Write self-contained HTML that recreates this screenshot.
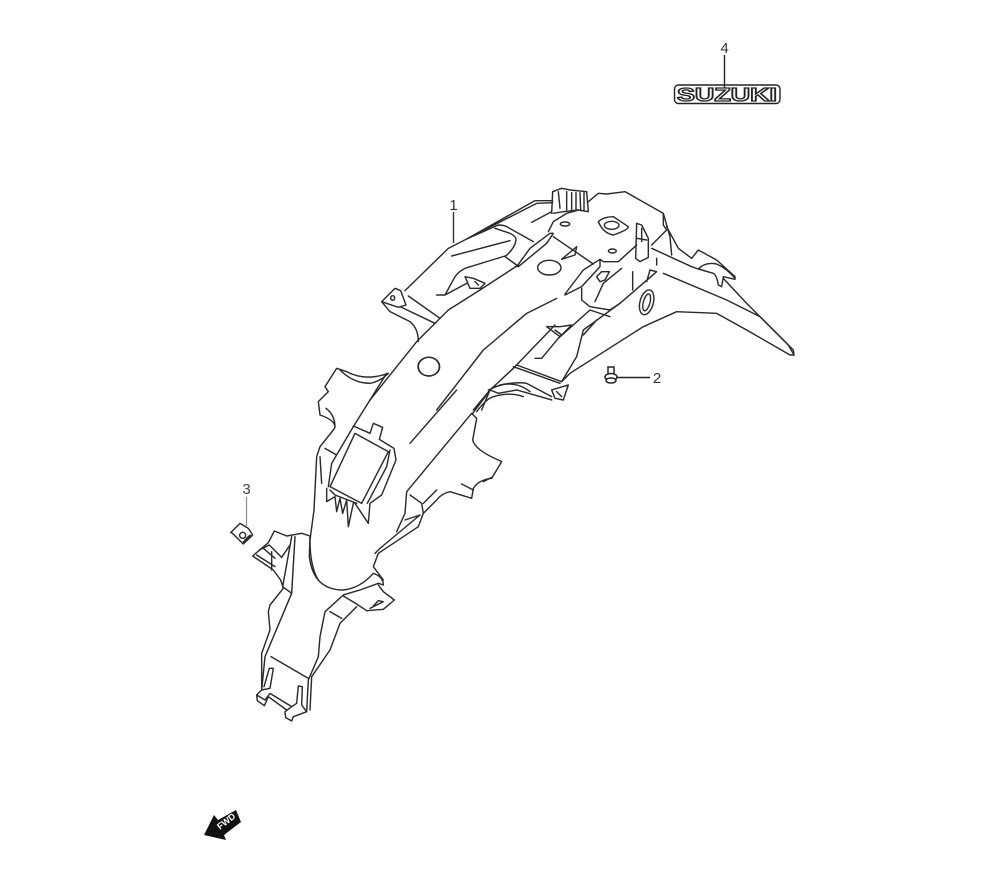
<!DOCTYPE html>
<html><head><meta charset="utf-8">
<style>
html,body{margin:0;padding:0;background:#fff;width:1000px;height:880px;overflow:hidden}
svg{display:block}
.l{fill:none;stroke:#2a2a2a;stroke-width:4.300;stroke-linejoin:round;stroke-linecap:round}
text{font-family:"Liberation Sans",sans-serif}
</style></head><body>
<svg width="1000" height="880" viewBox="0 0 1000 880" xmlns="http://www.w3.org/2000/svg">
<rect width="1000" height="880" fill="#fff"/>

<!-- upper section -->
<g transform="translate(370,170) scale(.33333)" class="l">
<path d="M105,362L235,235L290,207L495,92L548,92M290,207L500,100L548,98"/>
<path d="M35,395L75,355L92,362L108,405L85,412L35,395L60,425L120,455Q145,475 145,515M115,378L210,445M90,410L195,460"/>
<ellipse cx="68" cy="384" rx="6" ry="7"/>
<path d="M0,690L140,515L235,420L330,360L445,285M200,720L340,540L470,430L560,385"/>
<ellipse cx="538" cy="293" rx="35" ry="22"/>
<ellipse cx="177" cy="590" rx="32" ry="28"/>
<path d="M290,207L385,165Q400,165 410,170L490,215M375,175L420,190Q440,200 438,210Q435,235 405,260L440,285M245,258L420,212M405,258L285,295Q265,305 255,320L225,375L200,375M225,375L290,340"/>
<path d="M285,320L300,355L330,355L345,340L310,325L285,320M315,335L325,345"/>
<path d="M440,290L480,235L540,190L550,190L530,220L445,290M550,200L670,282M535,185L550,155L590,130L625,120"/>
<path d="M485,157L545,125M545,130L548,65L575,55L600,60L650,65L655,125L625,120L580,125L550,130M565,65L570,115M590,65L590,120M605,68L605,118M618,68L618,118M630,68L632,120M642,68L642,122"/>
<path d="M655,95L685,70L710,72L765,65L880,130L880,165L890,180L845,225M880,130L900,200L905,255M890,170L925,235L965,265"/>
<path d="M685,155Q700,140 730,140L775,170Q775,180 730,195Q700,190 685,155Z"/>
<ellipse cx="725" cy="166" rx="22" ry="12"/>
<ellipse cx="585" cy="162" rx="14" ry="6"/>
<ellipse cx="727" cy="243" rx="12" ry="6"/>
<path d="M620,230L615,255L575,268L620,230"/>
<path d="M585,372L640,300L690,268L690,290L635,350L585,375M690,268L700,275L745,275L800,225"/>
<path d="M800,160L815,165L835,205L835,262L810,275L797,265L800,160M815,175L815,215M800,205L830,210M845,235L965,290L985,297"/>
<path d="M880,310L1070,390L1170,440L1270,540L1272,555L1260,555L1130,480L1040,430L920,425L820,470L600,610L575,635"/>
<path d="M965,265L985,240L1040,270L1095,320L1095,328L1060,320L1055,350L1045,345Q1040,315 1030,310L985,297Q1005,275 1040,282Q1070,295 1095,325M1060,325L1130,400L1255,525L1272,555"/>
<ellipse cx="830" cy="397" rx="20" ry="38" transform="rotate(15 830 397)"/>
<ellipse cx="830" cy="397" rx="10" ry="26" transform="rotate(15 830 397)"/>
<path d="M635,355L635,390L660,410L720,420L750,400L860,305L840,300L830,335M860,265L860,285M675,395L700,340L755,295M788,305L788,360"/>
<path d="M680,320L695,305L718,305L705,330L690,335L680,320"/>
<path d="M335,720L360,660L430,595L555,465M430,590L570,640M440,585L575,635M545,660L595,645L580,690L555,685L545,660M355,660L390,645Q440,635 470,640L545,680M310,720L360,660L385,670L440,660L545,690M560,665L575,680"/>
<path d="M495,565L515,565L565,505L660,420L720,440M530,470L570,500L605,465L570,470L530,470M555,480L575,495M640,495L680,450M575,635L620,560L640,480L750,400"/>
</g>

<!-- middle section -->
<g transform="translate(290,340) scale(.33333)" class="l">
<path d="M105,140L140,85L170,95Q225,125 295,100M150,90Q190,130 240,130Q270,125 295,100M105,140L115,155L85,185L90,225Q135,240 135,262L130,270L90,320L80,350L72,510M108,205Q135,225 135,262"/>
<path d="M290,100L240,180L190,260M115,440L125,370L190,260M105,325L140,345M90,350L95,430"/>
<ellipse cx="416" cy="80" rx="32" ry="28"/>
<path d="M500,150L360,310"/>
<path d="M190,258L240,280L250,250L278,262L268,298L312,325L318,360L275,465L240,490L235,550L215,520L195,490"/>
<path d="M195,280L295,335L215,490L120,440L195,280M300,330L290,380L232,490"/>
<path d="M110,445L110,485L135,470L140,515L150,475L158,520L170,480L175,560L190,490M120,450L135,465L200,490"/>
<path d="M72,510L60,600Q60,680 85,720"/>
<path d="M545,220L350,455L345,520L320,575"/>
<path d="M545,220L560,235L548,300Q555,330 625,360L635,365L605,415Q565,420 550,445L545,475L480,455Q455,460 440,480L400,520L385,560L265,640L250,680L280,720"/>
<path d="M548,220L605,145Q670,115 720,155M560,215Q590,175 610,170Q660,155 700,170M515,432L550,450M360,465L395,490L400,520M400,490L440,450M345,540L390,525L270,625L255,640M580,425L605,412"/>
</g>

<!-- lower section -->
<g transform="translate(210,480) scale(.33333)" class="l">
<path d="M128,228L175,188L193,153L230,168L275,160L300,168M128,228L190,270L212,300L220,325L180,375L175,395L180,450L155,520L155,630"/>
<path d="M140,225L195,260M148,210L178,195L215,232L240,195M160,205L195,235M185,215L185,270"/>
<path d="M245,170L218,320L245,340M255,170L245,340L165,530L155,630"/>
<path d="M300,168L298,230Q310,330 400,330Q450,325 490,280Q520,290 520,315L505,310L450,330L400,345L345,395L330,470L325,530L295,600L290,695"/>
<path d="M400,348L440,372L470,392L520,388L553,360L520,335L505,315M490,378L505,362L520,365L480,385M360,395L395,415M440,380L390,430L360,510L305,590L300,690"/>
<path d="M183,530L295,595"/>
<path d="M140,645L155,630L180,625L190,565L178,565L162,620M140,645L142,662L163,677L175,650L230,690"/>
<path d="M225,695L245,680L260,670L265,618L277,620L275,675L290,695L250,710L245,723L227,713L225,695M140,645L165,660L180,640L245,680"/>
</g>

<!-- clip 3 -->
<g transform="translate(210,480) scale(.33333)" class="l">
<path d="M62,158L90,130L115,145L128,165L100,192L65,158Z" fill="#fff"/>
<circle cx="98" cy="166" r="9"/>
<path d="M100,186L125,168M105,180L122,168M110,175L120,166" stroke-width="5"/>
</g>
<path d="M246.500 497V527" stroke="#888" stroke-width="1.200" fill="none"/>
<text x="246.500" y="494" font-size="15" fill="#444" text-anchor="middle">3</text>

<!-- bolt 2 -->
<g fill="#fff" stroke="#222" stroke-width="1.500">
<rect x="608" y="367" width="6" height="7"/>
<ellipse cx="611" cy="377" rx="6" ry="3.500"/>
<ellipse cx="611" cy="380.500" rx="5" ry="2.500"/>
</g>
<path d="M617 377.500H650" stroke="#222" stroke-width="1.400" fill="none"/>
<text x="657" y="383" font-size="15" fill="#333" text-anchor="middle">2</text>

<!-- label 1 -->
<path d="M453.500 212V243" stroke="#333" stroke-width="1.400" fill="none"/>
<text x="453.500" y="210" font-size="15" fill="#333" text-anchor="middle">1</text>

<!-- label 4 and logo -->
<rect x="674.500" y="85" width="105.500" height="18.500" rx="4" fill="#fff" stroke="#222" stroke-width="1.400"/>
<text x="727" y="100.800" font-size="18.500" font-weight="bold" fill="#fff" stroke="#222" stroke-width="1.300" text-anchor="middle" textLength="100" lengthAdjust="spacingAndGlyphs">SUZUKI</text>
<path d="M724.500 55V88" stroke="#222" stroke-width="1.400" fill="none"/>
<text x="724.500" y="53" font-size="15" fill="#333" text-anchor="middle">4</text>

<!-- FWD arrow -->
<path d="M204,835L214,815L218,820L236,810L241,822L224,835L226,840Z" fill="#111"/>
<text x="0" y="0" transform="translate(220,830) rotate(-38)" font-size="9" font-weight="bold" fill="#fff">FWD</text>
</svg>
</body></html>
